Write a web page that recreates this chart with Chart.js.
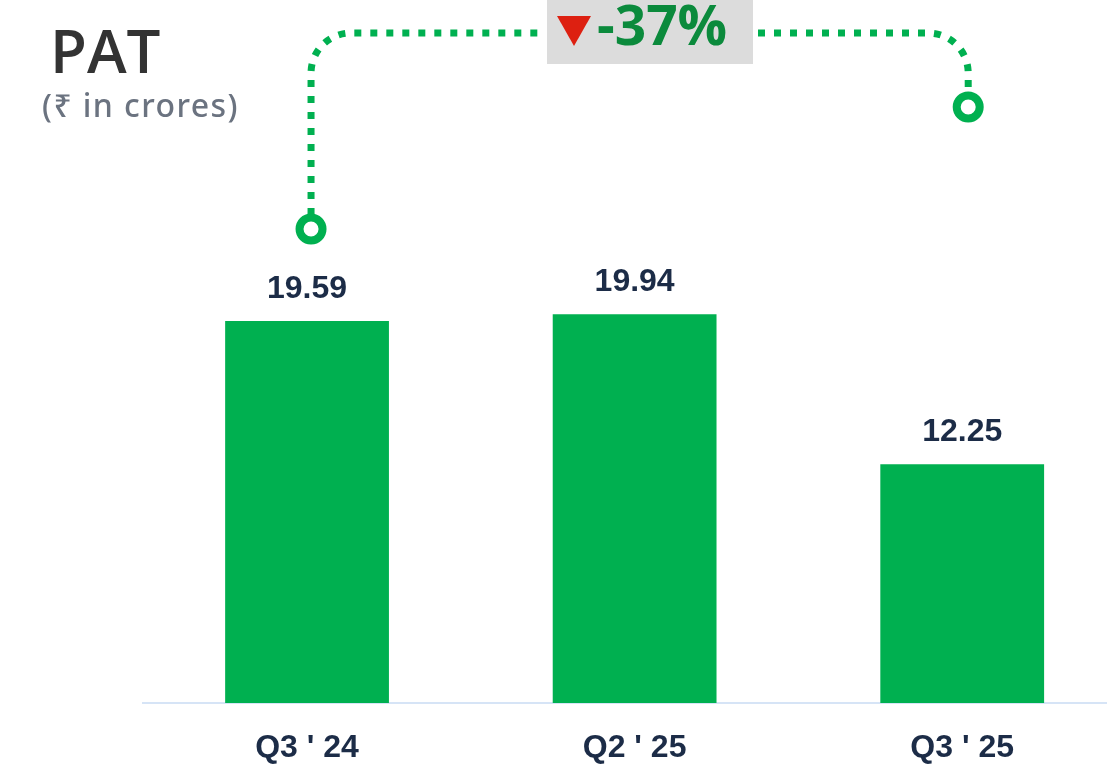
<!DOCTYPE html>
<html>
<head>
<meta charset="utf-8">
<script src="https://cdn.jsdelivr.net/npm/chart.js@4.4.1/dist/chart.umd.min.js"></script>
<style>
  html, body { margin: 0; padding: 0; background: #fff; overflow: hidden; }
  #wrap { position: relative; width: 1107px; height: 772px; overflow: hidden; }
  #pat-chart { position: absolute; left: 0; top: 0; }
  .title { position: absolute; left: 50px; top: 20px; font: 600 60px/1 "Open Sans", "Noto Sans", sans-serif; color: #333333; }
  .subtitle { position: absolute; left: 42px; top: 89px; font: 500 32px/1 "Noto Sans", sans-serif; letter-spacing: 1.4px; color: #6b7380; white-space: nowrap; }
  .badge { position: absolute; left: 547px; top: 0; width: 206px; height: 64px; background: #dcdcdc; }
  .tri { position: absolute; left: 10px; top: 16px; width: 0; height: 0;
         border-left: 17px solid transparent; border-right: 17px solid transparent; border-top: 30px solid #dd2011; }
  .pct { position: absolute; left: 50px; top: -4px; font: 700 55px/1 "Open Sans", "Noto Sans", sans-serif; color: #0b8a3c; white-space: nowrap; }
</style>
</head>
<body>
<div id="wrap">
  <canvas id="pat-chart" width="1126" height="772"></canvas>
  <div class="title">PAT</div>
  <div class="subtitle">(₹ in crores)</div>
  <div class="badge"><div class="tri"></div><div class="pct">-37%</div></div>
</div>
<script>
const quarters = ["Q3 ' 24", "Q2 ' 25", "Q3 ' 25"];
const patValues = [19.59, 19.94, 12.25];

const patChart = document.getElementById('pat-chart');

// value labels above each bar
const barLabels = {
  id: 'barLabels',
  afterDatasetsDraw(chart) {
    const ctx = chart.ctx;
    const meta = chart.getDatasetMeta(0);
    ctx.save();
    ctx.font = 'bold 32px "Liberation Sans", Arial, sans-serif';
    ctx.fillStyle = '#1c2c47';
    ctx.textAlign = 'center';
    ctx.textBaseline = 'alphabetic';
    meta.data.forEach((bar, i) => {
      ctx.fillText(patValues[i].toFixed(2), bar.x, bar.y - 23);
    });
    ctx.restore();
  }
};

// dotted connector from first to last quarter
const connector = {
  id: 'connector',
  afterDraw(chart) {
    const ctx = chart.ctx;
    const meta = chart.getDatasetMeta(0);
    const first = meta.data[0];
    const last = meta.data[meta.data.length - 1];
    const x1 = first.x + 4, y1 = first.y - 92;
    const x2 = last.x + 6, y2 = 107;
    const top = 33, r = 40;
    const green = '#00b050';

    ctx.save();
    ctx.strokeStyle = green;
    ctx.lineWidth = 7;
    ctx.setLineDash([7, 9]);
    ctx.beginPath();
    ctx.moveTo(x1, y1 - 14);
    ctx.lineTo(x1, top + r);
    ctx.arcTo(x1, top, x1 + r, top, r);
    ctx.lineTo(540, top);
    ctx.stroke();

    ctx.beginPath();
    ctx.moveTo(758, top);
    ctx.lineTo(x2 - r, top);
    ctx.arcTo(x2, top, x2, top + r, r);
    ctx.lineTo(x2, y2 - 14);
    ctx.stroke();

    ctx.setLineDash([]);
    ctx.lineWidth = 8;
    ctx.fillStyle = '#ffffff';
    [[x1, y1], [x2, y2]].forEach(([cx, cy]) => {
      ctx.beginPath();
      ctx.arc(cx, cy, 11.5, 0, Math.PI * 2);
      ctx.fill();
      ctx.stroke();
    });
    ctx.restore();
  }
};

new Chart(patChart, {
  type: 'bar',
  data: {
    labels: quarters,
    datasets: [{
      label: 'PAT',
      data: patValues,
      backgroundColor: '#00b050',
      borderWidth: 0,
      barPercentage: 0.5,
      categoryPercentage: 1.0
    }]
  },
  options: {
    responsive: false,
    animation: false,
    devicePixelRatio: 1,
    layout: {
      padding: { top: 215.5, left: 143.25, right: 0, bottom: 6.5 }
    },
    plugins: {
      legend: { display: false },
      tooltip: { enabled: false }
    },
    scales: {
      x: {
        offset: true,
        grid: { display: false, drawTicks: false },
        border: { display: true, color: '#d6e4f6', width: 2 },
        ticks: {
          padding: 25.5,
          color: '#1c2c47',
          font: { family: '"Liberation Sans", Arial, sans-serif', size: 32, weight: 'bold' }
        },
        afterFit: (scale) => { scale.height = 62.5; }
      },
      y: {
        display: false,
        min: 0,
        max: 25
      }
    }
  },
  plugins: [barLabels, connector]
});
</script>
</body>
</html>
